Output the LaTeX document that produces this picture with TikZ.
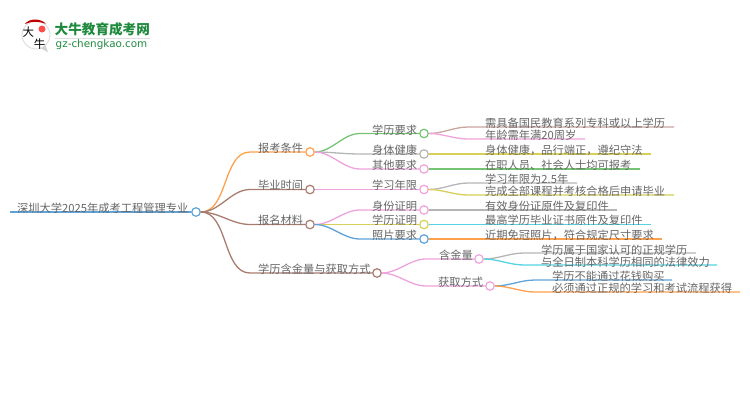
\documentclass[tikz,border=0pt]{standalone}
\usepackage{fontspec}
\setmainfont{Noto Sans CJK SC}
\newfontfamily\latinfont{DejaVu Sans}
\definecolor{cOrange}{HTML}{FFA04D}
\definecolor{cBrown}{HTML}{A97C70}
\definecolor{cBlue}{HTML}{5FA3D8}
\definecolor{cGreen}{HTML}{74C474}
\definecolor{cGray}{HTML}{B5B5B5}
\definecolor{cPink}{HTML}{EFA3DC}
\definecolor{cYellow}{HTML}{D6D058}
\definecolor{cCyan}{HTML}{55D3E2}
\definecolor{cRose}{HTML}{C9A5A0}
\definecolor{cText}{HTML}{666666}
\definecolor{cLogo}{HTML}{1F8A3E}
\tikzset{
  lab/.style={anchor=west, inner sep=0pt, yshift=-1pt, text=cText, font=\fontsize{11.25}{13}\selectfont},
  dot/.style={circle, draw=#1, fill=white, line width=1.2pt, minimum size=8.5pt, inner sep=0pt},
  link/.style={draw=#1, line width=1.3pt},
  swoop/.style={out=0, in=180, looseness=0.9}
}
\begin{document}
\begin{tikzpicture}[x=1pt, y=-1pt]
\useasboundingbox (0,0) rectangle (750,410);
% logo
\fill[gray!35] (38,47) -- (48,52) -- (45,44) -- cycle;
\node[circle, draw=gray!25, fill=white, line width=1pt, minimum size=28pt, inner sep=0pt] (logoball) at (36,35) {};
\fill[red!75!black] (25,24) .. controls (29,18) and (41,18) .. (46,24) .. controls (38,21) and (32,21) .. (25,24) -- cycle;
\fill[red!70!white] (42,29) circle (3.5);
\node[inner sep=0pt, font=\fontsize{11.5}{12}\selectfont] (logoda) at (28.5,32.5) {大};
\node[inner sep=0pt, font=\fontsize{11.5}{12}\selectfont] (logoniu) at (39.5,44) {牛};
\node[anchor=west, inner sep=0pt, text=cLogo, font=\bfseries\fontsize{13.6}{14}\selectfont] (logoname) at (54.5,29.5) {大牛教育成考网};
\draw[gray!25, line width=0.8pt] (55,38.5) -- (150,38.5);
\node[anchor=west, inner sep=0pt, text=cLogo, font=\latinfont\fontsize{10.4}{12}\selectfont] (logourl) at (55.5,45) {gz-chengkao.com};
% circles
\node[dot=cBlue] (root) at (196,212) {};
\node[dot=cOrange] (baokao) at (310,152) {};
\node[dot=cBrown] (biye) at (310,189.5) {};
\node[dot=cBrown] (cailiao) at (310,224.5) {};
\node[dot=cBrown] (hanjin) at (377,273) {};
\node[dot=cGreen] (xueli) at (424,133.5) {};
\node[dot=cGray] (shenti) at (424,154) {};
\node[dot=cPink] (qita) at (424,169) {};
\node[dot=cPink] (nianxian) at (424,189.5) {};
\node[dot=cPink] (shenfen) at (424,210) {};
\node[dot=cYellow] (zhengming) at (424,224.5) {};
\node[dot=cBlue] (zhaopian) at (424,239) {};
\node[dot=cPink] (hanliang) at (479,259) {};
\node[dot=cPink] (huoqu) at (490,286) {};
% free ends
\coordinate (rootstart) at (10,212);
\coordinate (baokaoa) at (250,152);
\coordinate (biyea) at (250,189.5);
\coordinate (cailiaoa) at (250,224.5);
\coordinate (hanjina) at (250,273);
\coordinate (xuelia) at (360,133.5);
\coordinate (shentia) at (360,154);
\coordinate (qitaa) at (360,169);
\coordinate (shenfena) at (360,210);
\coordinate (zhaopiana) at (360,239);
\coordinate (hanliangb) at (426,259);
\coordinate (huoqub) at (426,286);
% first level
\draw[link=cBlue] (rootstart) -- (root.west);
\draw[link=cOrange] (root.east) to[swoop] (baokaoa) -- (baokao.west);
\draw[link=cBrown] (root.east) to[swoop] (biyea) -- (biye.west);
\draw[link=cBrown] (root.east) to[swoop] (cailiaoa) -- (cailiao.west);
\draw[link=cBrown] (root.east) to[swoop] (hanjina) -- (hanjin.west);
% second level
\draw[link=cGreen] (baokao.east) to[swoop] (xuelia) -- (xueli.west);
\draw[link=cGray] (baokao.east) to[swoop] (shentia) -- (shenti.west);
\draw[link=cPink] (baokao.east) to[swoop] (qitaa) -- (qita.west);
\draw[link=cPink] (biye.east) -- (nianxian.west);
\draw[link=cPink] (cailiao.east) to[swoop] (shenfena) -- (shenfen.west);
\draw[link=cYellow] (cailiao.east) -- (zhengming.west);
\draw[link=cBlue] (cailiao.east) to[swoop] (zhaopiana) -- (zhaopian.west);
\draw[link=cPink] (hanjin.east) to[swoop] (hanliangb) -- (hanliang.west);
\draw[link=cPink] (hanjin.east) to[swoop] (huoqub) -- (huoqu.west);
% leaves
\coordinate (leafa) at (674,127);
\coordinate (leafb) at (585,139);
\coordinate (leafc) at (651,154);
\coordinate (leafd) at (640,169);
\coordinate (leafe) at (577,183);
\coordinate (leaff) at (674,195);
\coordinate (leafg) at (617,210);
\coordinate (leafh) at (651,224.5);
\coordinate (leafi) at (662,239);
\coordinate (leafj) at (696,253);
\coordinate (leafk) at (717,265);
\coordinate (leafl) at (672,280);
\coordinate (leafm) at (740,292);
\coordinate (benda) at (468,127);
\coordinate (bendb) at (468,139);
\coordinate (bende) at (468,183);
\coordinate (bendf) at (468,195);
\coordinate (bendj) at (524,253);
\coordinate (bendk) at (524,265);
\coordinate (bendl) at (535,280);
\coordinate (bendm) at (535,292);
\draw[link=cRose] (xueli.east) to[swoop] (benda) -- (leafa);
\draw[link=cPink] (xueli.east) to[swoop] (bendb) -- (leafb);
\draw[link=cYellow] (shenti.east) -- (leafc);
\draw[link=cGreen] (qita.east) -- (leafd);
\draw[link=cGray] (nianxian.east) to[swoop] (bende) -- (leafe);
\draw[link=cYellow] (nianxian.east) to[swoop] (bendf) -- (leaff);
\draw[link=cGray] (shenfen.east) -- (leafg);
\draw[link=cCyan] (zhengming.east) -- (leafh);
\draw[link=cOrange] (zhaopian.east) -- (leafi);
\draw[link=cGray] (hanliang.east) to[swoop] (bendj) -- (leafj);
\draw[link=cCyan] (hanliang.east) to[swoop] (bendk) -- (leafk);
\draw[link=cBlue] (huoqu.east) to[swoop] (bendl) -- (leafl);
\draw[link=cOrange] (huoqu.east) to[swoop] (bendm) -- (leafm);
% labels
\node[lab] (roottext) at (17,207) {深圳大学2025年成考工程管理专业};
\node[lab] (baokaotext) at (258,147) {报考条件};
\node[lab] (biyetext) at (258,184.5) {毕业时间};
\node[lab] (cailiaotext) at (258,219.5) {报名材料};
\node[lab] (hanjintext) at (258,268) {学历含金量与获取方式};
\node[lab] (xuelitext) at (372,129) {学历要求};
\node[lab] (shentitext) at (372,149.5) {身体健康};
\node[lab] (qitatext) at (372,164.5) {其他要求};
\node[lab] (nianxiantext) at (372,184.5) {学习年限};
\node[lab] (shenfentext) at (372,205.5) {身份证明};
\node[lab] (zhengmingtext) at (372,219.5) {学历证明};
\node[lab] (zhaopiantext) at (372,234.5) {照片要求};
\node[lab] (hanliangtext) at (439,254) {含金量};
\node[lab] (huoqutext) at (438,281) {获取方式};
\node[lab] (leafatext) at (485,122.5) {需具备国民教育系列专科或以上学历};
\node[lab] (leafbtext) at (485,134.5) {年龄需年满20周岁};
\node[lab] (leafctext) at (485,149.5) {身体健康，品行端正，遵纪守法};
\node[lab] (leafdtext) at (485,164.5) {在职人员、社会人士均可报考};
\node[lab] (leafetext) at (485,178.5) {学习年限为2.5年};
\node[lab] (leafftext) at (485,190.5) {完成全部课程并考核合格后申请毕业};
\node[lab] (leafgtext) at (485,205.5) {有效身份证原件及复印件};
\node[lab] (leafhtext) at (485,219.5) {最高学历毕业证书原件及复印件};
\node[lab] (leafitext) at (485,234.5) {近期免冠照片，符合规定尺寸要求};
\node[lab] (leafjtext) at (541,249) {学历属于国家认可的正规学历};
\node[lab] (leafktext) at (541,261) {与全日制本科学历相同的法律效力};
\node[lab] (leafltext) at (552,275.5) {学历不能通过花钱购买};
\node[lab] (leafmtext) at (552,287.5) {必须通过正规的学习和考试流程获得};
\end{tikzpicture}
\end{document}
